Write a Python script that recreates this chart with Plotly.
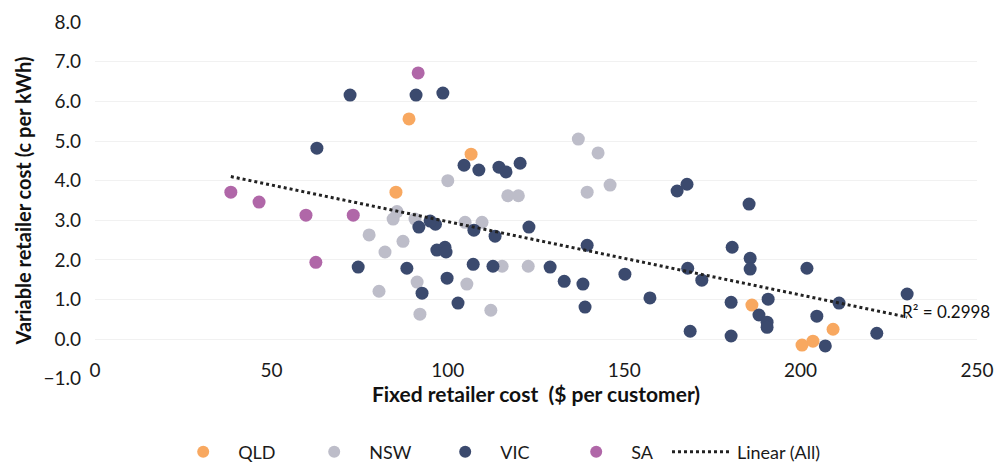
import numpy as np
import plotly.graph_objects as go

# Fixed retailer cost ($ per customer) and variable retailer cost (c per kWh), by state
qld_fixed = [89.0, 106.6, 85.3, 186.2, 209.2, 203.5, 200.4]
qld_var = [5.56, 4.67, 3.71, 0.86, 0.25, -0.05, -0.15]

nsw_fixed = [137.0, 142.6, 100.0, 146.0, 139.5, 117.0, 120.0, 84.5, 85.6, 90.7,
             104.9, 109.7, 77.7, 87.3, 82.2, 115.4, 122.8, 105.4, 91.3, 80.5,
             112.2, 92.1]
nsw_var = [5.05, 4.70, 4.00, 3.89, 3.71, 3.62, 3.62, 3.03, 3.22, 3.03,
           2.95, 2.95, 2.63, 2.47, 2.20, 1.84, 1.84, 1.39, 1.44, 1.21,
           0.73, 0.63]

vic_fixed = [72.3, 91.0, 98.6, 62.9, 104.6, 108.8, 114.5, 116.5, 120.5, 91.8,
             96.5, 95.0, 107.4, 113.4, 123.0, 139.5, 96.9, 99.2, 99.5, 74.6,
             88.4, 107.2, 112.8, 129.0, 133.0, 138.3, 150.2, 99.8, 92.7, 102.9,
             138.9, 165.0, 167.8, 185.4, 180.6, 185.7, 185.7, 201.8, 168.0, 172.0,
             157.3, 180.3, 190.8, 188.2, 190.5, 190.5, 210.9, 230.2, 204.6, 221.6,
             168.7, 180.3, 207.0]
vic_var = [6.16, 6.16, 6.21, 4.82, 4.39, 4.27, 4.34, 4.22, 4.44, 2.83,
           2.90, 2.98, 2.75, 2.60, 2.83, 2.37, 2.25, 2.32, 2.20, 1.82,
           1.79, 1.89, 1.84, 1.82, 1.46, 1.39, 1.64, 1.54, 1.16, 0.91,
           0.81, 3.74, 3.91, 3.41, 2.32, 2.04, 1.77, 1.79, 1.79, 1.49,
           1.04, 0.93, 1.01, 0.61, 0.43, 0.30, 0.91, 1.14, 0.58, 0.15,
           0.20, 0.08, -0.17]

sa_fixed = [91.6, 38.5, 46.5, 59.8, 73.2, 62.6]
sa_var = [6.72, 3.71, 3.46, 3.13, 3.13, 1.94]

r2_label = "R\u00b2 = 0.2998"

FONT = "Lato, 'Open Sans', sans-serif"

series = [
    ("QLD", qld_fixed, qld_var, "#F8A860"),
    ("NSW", nsw_fixed, nsw_var, "#BDBDC9"),
    ("VIC", vic_fixed, vic_var, "#3B4A6E"),
    ("SA", sa_fixed, sa_var, "#B067A8"),
]

fig = go.Figure()
for name, xs, ys, color in series:
    fig.add_trace(go.Scatter(
        x=xs, y=ys, mode="markers", name=name, legend="legend",
        marker=dict(size=13, color=color, line=dict(width=0)),
    ))

# Least-squares trend line through all states
all_x = np.array(qld_fixed + nsw_fixed + vic_fixed + sa_fixed)
all_y = np.array(qld_var + nsw_var + vic_var + sa_var)
slope, intercept = np.polyfit(all_x, all_y, 1)
tx = np.array([all_x.min(), all_x.max()])
fig.add_trace(go.Scatter(
    x=tx, y=slope * tx + intercept, mode="lines", name="Linear (All)",
    legend="legend2",
    line=dict(color="#222222", width=3, dash="dot"),
))

fig.add_annotation(
    x=228.3, y=0.71, xref="x", yref="y", text=r2_label, showarrow=False,
    xanchor="left", yanchor="middle", font=dict(size=17, color="#111111", family=FONT),
)

legend_common = dict(
    orientation="h", yref="container", y=0.028, yanchor="middle",
    font=dict(size=18, color="#1a1a1a"), borderwidth=0, bgcolor="rgba(0,0,0,0)",
)
fig.update_layout(
    width=995, height=465,
    margin=dict(l=95, r=18, t=22, b=86),
    paper_bgcolor="white", plot_bgcolor="white",
    font=dict(family=FONT, size=19, color="#1a1a1a"),
    legend=dict(x=0.083, xanchor="left", itemwidth=60, entrywidth=56,
                itemsizing="constant", **legend_common),
    legend2=dict(x=0.6485, xanchor="left", itemwidth=60, **legend_common),
    showlegend=True,
)
fig.update_xaxes(
    range=[0, 250], tickvals=[0, 50, 100, 150, 200, 250],
    ticklabelposition="outside", ticklabelstandoff=-22, automargin=False,
    showgrid=False, zeroline=False, showline=False, ticks="",
    tickfont=dict(size=19, color="#1a1a1a"),
    title=dict(text="<b>Fixed retailer cost  ($ per customer)</b>", standoff=6,
               font=dict(size=21, color="#111111")),
)
fig.update_yaxes(
    range=[-1.005, 8.005], tickvals=[-1, 0, 1, 2, 3, 4, 5, 6, 7, 8], tickformat=".1f",
    showgrid=True, gridcolor="#F1F1F1", automargin=False,
    zeroline=False, showline=False, ticks="", ticklabelstandoff=13,
    tickfont=dict(size=19, color="#1a1a1a"),
    title=dict(text="<b>Variable retailer cost (c per kWh)</b>", standoff=6,
               font=dict(size=20, color="#111111")),
)

fig.write_html("out.html")
